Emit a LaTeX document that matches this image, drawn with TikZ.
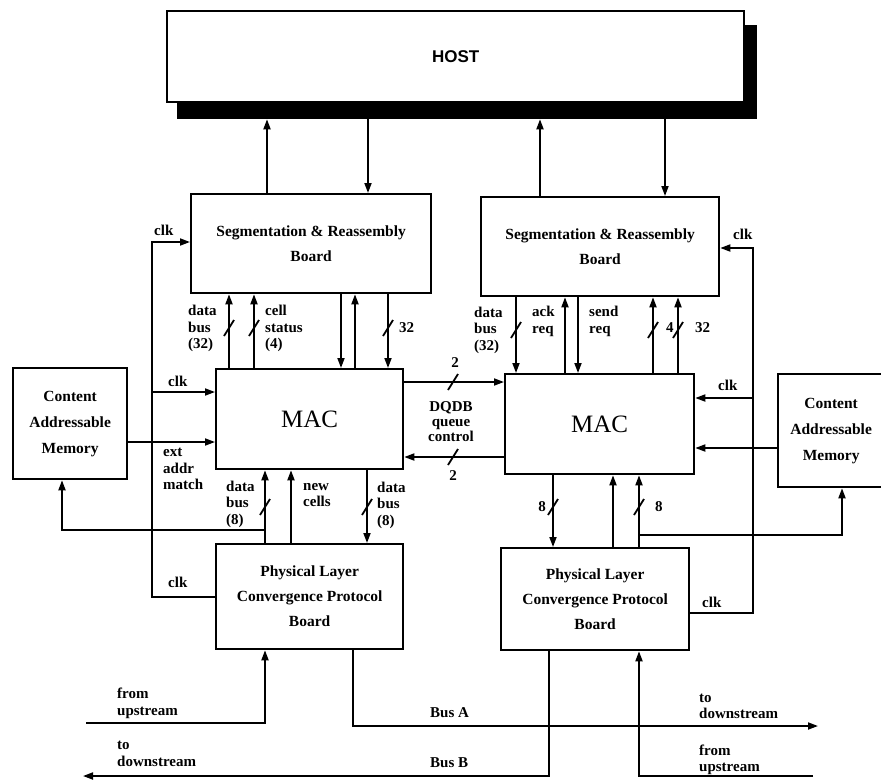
\documentclass[tikz,border=0pt]{standalone}
\usepackage{fontspec}
\setmainfont{Liberation Serif}
\newfontfamily\hostfont{Liberation Sans}
\usetikzlibrary{arrows.meta}
\begin{document}
\begin{tikzpicture}[x=1pt,y=-1pt,
  boxst/.style={draw,line width=2.3pt,fill=white,inner sep=0pt,anchor=north west},
  boxtxt/.style={font=\fontsize{15.5}{25}\selectfont\bfseries,align=center},
  lbl/.style={font=\fontsize{15}{16.5}\selectfont\bfseries,inner sep=0pt,align=left},
  conn/.style={line width=1.8pt},
  arr/.style={conn,-{Triangle[length=10pt,width=7pt]}},
  sl/.style={line width=1.8pt}]
\useasboundingbox (0,0) rectangle (881,780);

% HOST with shadow
\node[boxst,fill=black,draw=black,minimum width=578pt,minimum height=92pt] (hostsh) at (177,25) {};
\node[boxst,minimum width=577pt,minimum height=91pt,font=\hostfont\fontsize{17}{18}\selectfont\bfseries] (host) at (166,10) {HOST};

% Boards
\node[boxst,boxtxt,minimum width=240pt,minimum height=99pt] (seg1) at (190,193) {Segmentation \& Reassembly\\Board};
\node[boxst,boxtxt,minimum width=238pt,minimum height=99pt] (seg2) at (480,196) {Segmentation \& Reassembly\\Board};
\node[boxst,minimum width=187pt,minimum height=100pt,font=\fontsize{25}{25}\selectfont] (mac1) at (215,368) {MAC};
\node[boxst,minimum width=189pt,minimum height=100pt,font=\fontsize{25}{25}\selectfont] (mac2) at (504,373) {MAC};
\node[boxst,boxtxt,font=\fontsize{15.5}{26}\selectfont\bfseries,minimum width=114pt,minimum height=111pt] (cam1) at (12,367) {Content\\Addressable\\Memory};
\node[boxst,boxtxt,font=\fontsize{15.5}{26}\selectfont\bfseries,minimum width=106pt,minimum height=113pt] (cam2) at (777,373) {Content\\Addressable\\Memory};
\node[boxst,boxtxt,minimum width=187pt,minimum height=105pt] (plcp1) at (215,543) {Physical Layer\\Convergence Protocol\\Board};
\node[boxst,boxtxt,minimum width=188pt,minimum height=102pt] (plcp2) at (500,547) {Physical Layer\\Convergence Protocol\\Board};

% x positions
\foreach \n/\x in {267,368,540,665,229,254,341,355,388,516,565,578,653,678,265,291,367,553,613,639}
  {\coordinate (x\n) at (\x,0);}

% HOST <-> Seg
\draw[arr] (seg1.north -| x267) -- (hostsh.south -| x267);
\draw[arr] (hostsh.south -| x368) -- (seg1.north -| x368);
\draw[arr] (seg2.north -| x540) -- (hostsh.south -| x540);
\draw[arr] (hostsh.south -| x665) -- (seg2.north -| x665);

% Seg1 <-> MAC1
\draw[arr] (mac1.north -| x229) -- (seg1.south -| x229);
\draw[arr] (mac1.north -| x254) -- (seg1.south -| x254);
\draw[arr] (seg1.south -| x341) -- (mac1.north -| x341);
\draw[arr] (mac1.north -| x355) -- (seg1.south -| x355);
\draw[arr] (seg1.south -| x388) -- (mac1.north -| x388);
\foreach \x in {229,254,388} \draw[sl] (\x,328) +(-5,8) -- +(5,-8);
\node[lbl,anchor=west] (l1) at (188,328.5) {data\\bus\\(32)};
\node[lbl,anchor=west] (l2) at (265,328.5) {cell\\status\\(4)};
\node[lbl,anchor=west] (l3) at (399,328) {32};

% Seg2 <-> MAC2
\draw[arr] (seg2.south -| x516) -- (mac2.north -| x516);
\draw[arr] (mac2.north -| x565) -- (seg2.south -| x565);
\draw[arr] (seg2.south -| x578) -- (mac2.north -| x578);
\draw[arr] (mac2.north -| x653) -- (seg2.south -| x653);
\draw[arr] (mac2.north -| x678) -- (seg2.south -| x678);
\foreach \x in {516,653,678} \draw[sl] (\x,330) +(-5,8) -- +(5,-8);
\node[lbl,anchor=west] (l4) at (474,330) {data\\bus\\(32)};
\node[lbl,anchor=west] (l5) at (532,321.5) {ack\\req};
\node[lbl,anchor=west] (l6) at (589,321.5) {send\\req};
\node[lbl,anchor=west] (l7) at (666,328) {4};
\node[lbl,anchor=west] (l8) at (695,328) {32};

% Left clock
\coordinate (clkL) at (152,242);
\coordinate (clkLm) at (152,392);
\draw[arr] (plcp1.west) -- (plcp1.west -| clkL) -- (clkL) -- (clkL -| seg1.west);
\draw[arr] (clkLm) -- (clkLm -| mac1.west);
\node[lbl,anchor=west] (c1) at (154,230) {clk};
\node[lbl,anchor=west] (c2) at (168,381) {clk};
\node[lbl,anchor=west] (c3) at (168,582) {clk};

% CAM1 -> MAC1
\coordinate (camL) at (0,442);
\draw[arr] (cam1.east |- camL) -- (mac1.west |- camL);
\node[lbl,anchor=west] (l9) at (163,469) {ext\\addr\\match};

% MAC1 <-> PLCP1
\draw[arr] (plcp1.north -| x265) -- (mac1.south -| x265);
\draw[arr] (plcp1.north -| x291) -- (mac1.south -| x291);
\draw[arr] (mac1.south -| x367) -- (plcp1.north -| x367);
\foreach \x in {265,367} \draw[sl] (\x,507) +(-5,8) -- +(5,-8);
\coordinate (br1) at (265,530);
\coordinate (br1c) at (62,530);
\draw[arr] (br1) -- (br1c) -- (br1c |- cam1.south);
\node[lbl,anchor=west] (l10) at (226,504) {data\\bus\\(8)};
\node[lbl,anchor=west] (l11) at (303,495) {new\\cells};
\node[lbl,anchor=west] (l12) at (377,505) {data\\bus\\(8)};

% Right clock
\coordinate (clkRs) at (753,248);
\coordinate (clkRm) at (753,398);
\coordinate (clkRp) at (753,613);
\draw[arr] (plcp2.east |- clkRp) -- (clkRp) -- (clkRs) -- (clkRs -| seg2.east);
\draw[arr] (clkRm) -- (clkRm -| mac2.east);
\node[lbl,anchor=west] (c4) at (733,234) {clk};
\node[lbl,anchor=west] (c5) at (718,385) {clk};
\node[lbl,anchor=west] (c6) at (702,602) {clk};

% CAM2 -> MAC2
\coordinate (camR) at (0,448);
\draw[arr] (cam2.west |- camR) -- (mac2.east |- camR);

% MAC2 <-> PLCP2
\draw[arr] (mac2.south -| x553) -- (plcp2.north -| x553);
\draw[arr] (plcp2.north -| x613) -- (mac2.south -| x613);
\draw[arr] (plcp2.north -| x639) -- (mac2.south -| x639);
\foreach \x in {553,639} \draw[sl] (\x,507) +(-5,8) -- +(5,-8);
\coordinate (br2) at (639,535);
\coordinate (br2c) at (842,535);
\draw[arr] (br2) -- (br2c) -- (br2c |- cam2.south);
\node[lbl,anchor=east] (l13) at (546,507) {8};
\node[lbl,anchor=west] (l14) at (655,507) {8};

% DQDB
\coordinate (dq1) at (0,382);
\coordinate (dq2) at (0,457);
\draw[arr] (mac1.east |- dq1) -- (mac2.west |- dq1);
\draw[arr] (mac2.west |- dq2) -- (mac1.east |- dq2);
\draw[sl] (453,382) +(-5,8) -- +(5,-8);
\draw[sl] (453,457) +(-5,8) -- +(5,-8);
\node[lbl] (l15) at (455,363) {2};
\node[lbl] (l16) at (453,476) {2};
\node[lbl,align=center,font=\fontsize{15}{15}\selectfont\bfseries] (l17) at (451,422) {DQDB\\queue\\control};

% Buses
\coordinate (upL) at (86,723);
\coordinate (upLc) at (265,723);
\draw[arr] (upL) -- (upLc) -- (upLc |- plcp1.south);
\coordinate (busA1) at (353,726);
\coordinate (busA2) at (818,726);
\draw[arr] (plcp1.south -| busA1) -- (busA1) -- (busA2);
\coordinate (busB1) at (549,776);
\coordinate (busB2) at (83,776);
\draw[arr] (plcp2.south -| busB1) -- (busB1) -- (busB2);
\coordinate (upR) at (813,776);
\coordinate (upRc) at (639,776);
\draw[arr] (upR) -- (upRc) -- (upRc |- plcp2.south);
\node[lbl,anchor=west] (b1) at (117,703.5) {from\\upstream};
\node[lbl,anchor=west] (b2) at (117,754) {to\\downstream};
\node[lbl,anchor=west] (b3) at (430,713) {Bus A};
\node[lbl,anchor=west] (b4) at (430,763) {Bus B};
\node[lbl,anchor=west] (b5) at (699,706.5) {to\\downstream};
\node[lbl,anchor=west] (b6) at (699,760) {from\\upstream};
\end{tikzpicture}
\end{document}
